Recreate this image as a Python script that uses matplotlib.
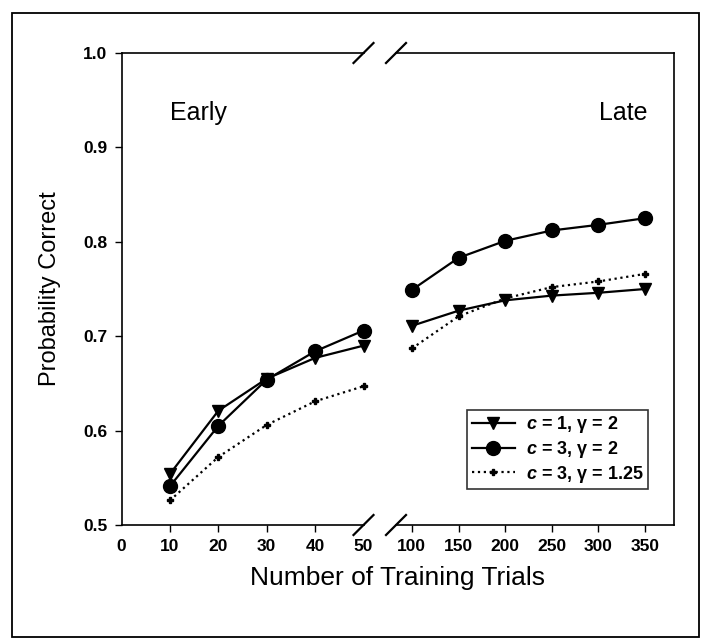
import numpy as np
import matplotlib.pyplot as plt
from matplotlib.patches import Rectangle

plt.rcParams['font.family'] = ['Liberation Sans', 'DejaVu Sans']
plt.rcParams['mathtext.fontset'] = 'custom'
plt.rcParams['mathtext.rm'] = 'Liberation Sans'
plt.rcParams['mathtext.it'] = 'Liberation Sans:italic:bold'

# training trials (early / late parts of the broken axis)
trials_early = [10, 20, 30, 40, 50]
trials_late = [100, 150, 200, 250, 300, 350]

# probability correct, one list per model
c1_g2_early = [0.554, 0.621, 0.655, 0.677, 0.690]
c1_g2_late = [0.711, 0.727, 0.738, 0.743, 0.746, 0.750]
c3_g2_early = [0.541, 0.605, 0.654, 0.684, 0.706]
c3_g2_late = [0.749, 0.783, 0.801, 0.812, 0.818, 0.825]
c3_g125_early = [0.526, 0.572, 0.606, 0.631, 0.647]
c3_g125_late = [0.687, 0.721, 0.740, 0.752, 0.758, 0.766]

labels = [r'$c$ = 1, γ = 2', r'$c$ = 3, γ = 2', r'$c$ = 3, γ = 1.25']
yticks = [0.5, 0.6, 0.7, 0.8, 0.9, 1.0]

W, H = 703, 641
fig = plt.figure(figsize=(W/100, H/100), dpi=100)

# frame around the whole figure
fig.patches.append(Rectangle((12/W, 4/H), 687/W, 624/H, transform=fig.transFigure,
                             fill=False, lw=1.3, color='black'))

bot, hgt = 116/H, 472/H
ax1 = fig.add_axes([121.5/W, bot, 242/W, hgt])
ax2 = fig.add_axes([396/W, bot, 278/W, hgt])

styles = [dict(marker='v', ms=9, ls='-', lw=1.6),
          dict(marker='o', ms=10, ls='-', lw=1.6),
          dict(marker='P', ms=4, ls=':', lw=1.6)]

early = [c1_g2_early, c3_g2_early, c3_g125_early]
late = [c1_g2_late, c3_g2_late, c3_g125_late]
for e, l, st, lab in zip(early, late, styles, labels):
    ax1.plot(trials_early, e, color='black', clip_on=False, **st)
    ax2.plot(trials_late, l, color='black', label=lab, clip_on=False, **st)

ax1.set_xlim(0, 50)
ax2.set_xlim(83, 381)
for ax in (ax1, ax2):
    ax.set_ylim(0.5, 1.0)
    ax.tick_params(direction='out', length=5, width=1, labelsize=12.5, pad=5)
    for s in ax.spines.values():
        s.set_linewidth(1.2)
    for t in ax.get_xticklabels() + ax.get_yticklabels():
        t.set_fontweight('bold')

ax1.set_xticks([0, 10, 20, 30, 40, 50])
ax1.set_yticks(yticks)
ax1.set_yticklabels(['%.1f' % v for v in yticks], fontweight='bold')
ax1.set_xticklabels([str(v) for v in [0, 10, 20, 30, 40, 50]], fontweight='bold')
ax1.spines['right'].set_visible(False)
# hide tick marks at 0 and 50, keep labels
ax1.xaxis.get_major_ticks()[0].tick1line.set_visible(False)
ax1.xaxis.get_major_ticks()[-1].tick1line.set_visible(False)

ax2.set_xticks(trials_late)
ax2.set_xticklabels([str(v) for v in trials_late], fontweight='bold')
ax2.spines['left'].set_visible(False)
ax2.tick_params(axis='y', left=False, labelleft=False)

# break marks
def slash(ax, x, y, dx, dy):
    ax.plot([x - dx, x + dx], [y - dy, y + dy], transform=ax.transAxes,
            color='black', lw=1.6, clip_on=False)

slash(ax1, 1.0, 0.0, 10/242, 10/472)
slash(ax1, 1.0, 1.0, 10/242, 10/472)
slash(ax2, 0.0, 0.0, 10/278, 10/472)
slash(ax2, 0.0, 1.0, 10/278, 10/472)

ax1.text(10, 0.936, 'Early', fontsize=18, va='center', ha='left')
ax2.text(353, 0.936, 'Late', fontsize=18, va='center', ha='right')

ax1.set_ylabel('Probability Correct', fontsize=17, labelpad=16)
fig.text((121.5 + 674)/2/W, 1 - 578/H, 'Number of Training Trials',
         fontsize=19, ha='center', va='center')

leg = ax2.legend(loc='lower right', bbox_to_anchor=(0.906, 0.076),
                 prop=dict(size=13, weight='bold'),
                 frameon=True, fancybox=False, edgecolor='black',
                 handlelength=2.4, borderpad=0.25, labelspacing=0.2,
                 handletextpad=0.6, borderaxespad=0)
leg.get_frame().set_linewidth(1.2)

fig.savefig('out.png', dpi=100)
